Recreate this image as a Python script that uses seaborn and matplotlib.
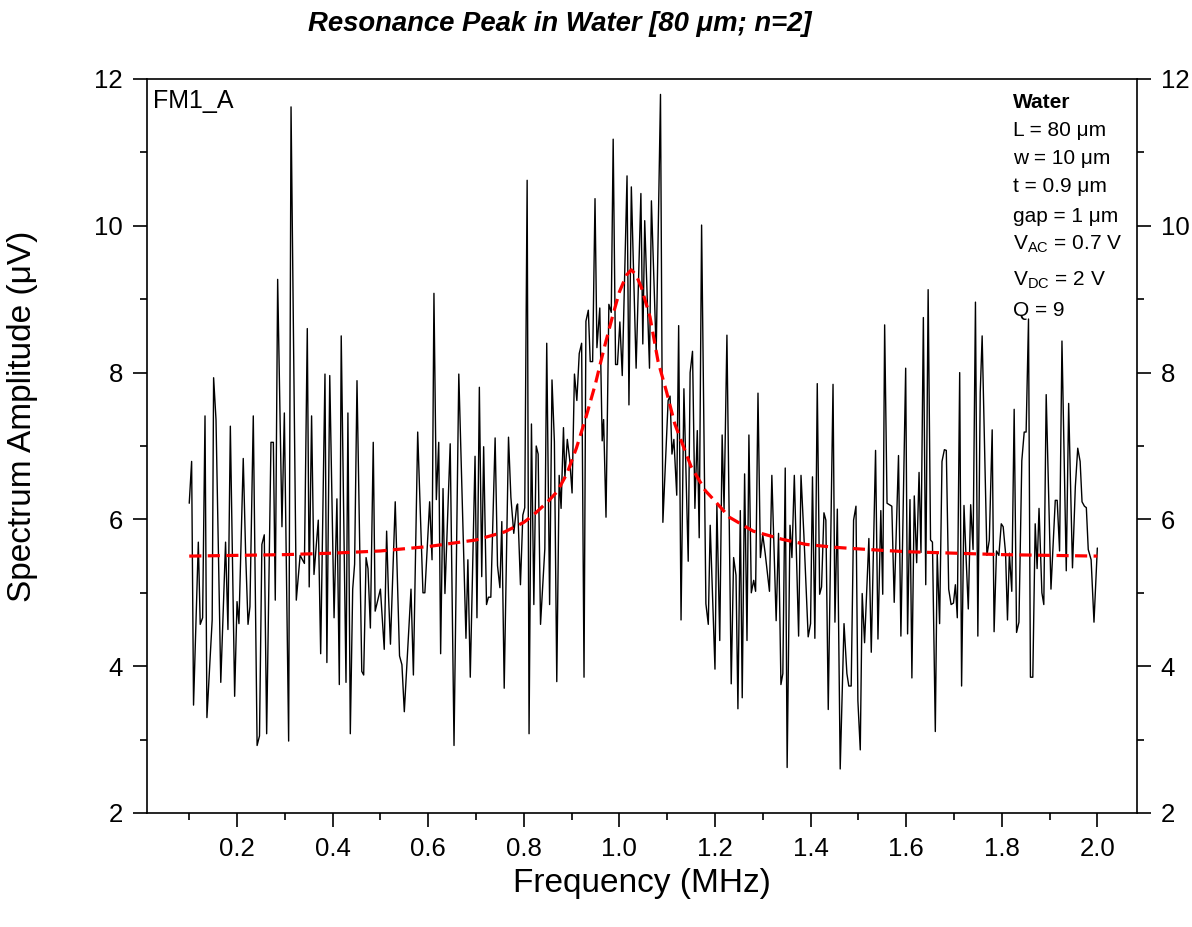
import matplotlib
matplotlib.use("Agg")
import matplotlib.pyplot as plt
from matplotlib.ticker import MultipleLocator
import seaborn as sns

# Measured spectrum: frequency (MHz) and amplitude (uV)
freq = [
    0.100, 0.105, 0.109, 0.119, 0.123, 0.128, 0.133, 0.137, 0.148, 0.151,
    0.156, 0.166, 0.176, 0.181, 0.186, 0.195, 0.200, 0.204, 0.213, 0.218,
    0.223, 0.227, 0.234, 0.242, 0.247, 0.252, 0.257, 0.262, 0.271, 0.276,
    0.280, 0.285, 0.294, 0.299, 0.308, 0.313, 0.324, 0.332, 0.341, 0.347,
    0.351, 0.356, 0.361, 0.370, 0.375, 0.384, 0.388, 0.394, 0.403, 0.409,
    0.414, 0.418, 0.428, 0.432, 0.437, 0.442, 0.446, 0.451, 0.461, 0.465,
    0.470, 0.474, 0.479, 0.485, 0.489, 0.500, 0.508, 0.513, 0.517, 0.521,
    0.531, 0.540, 0.545, 0.550, 0.564, 0.569, 0.578, 0.589, 0.593, 0.603,
    0.608, 0.612, 0.617, 0.622, 0.626, 0.631, 0.635, 0.646, 0.654, 0.664,
    0.679, 0.683, 0.688, 0.698, 0.702, 0.707, 0.712, 0.716, 0.722, 0.726,
    0.731, 0.740, 0.745, 0.750, 0.754, 0.759, 0.768, 0.773, 0.779, 0.785,
    0.787, 0.793, 0.798, 0.802, 0.807, 0.811, 0.816, 0.821, 0.826, 0.830,
    0.835, 0.844, 0.848, 0.854, 0.859, 0.864, 0.869, 0.874, 0.878, 0.883,
    0.886, 0.891, 0.896, 0.901, 0.906, 0.911, 0.916, 0.921, 0.926, 0.930,
    0.935, 0.939, 0.944, 0.949, 0.953, 0.959, 0.964, 0.967, 0.972, 0.978,
    0.983, 0.987, 0.992, 0.996, 1.001, 1.006, 1.016, 1.020, 1.025, 1.035,
    1.045, 1.049, 1.053, 1.063, 1.067, 1.077, 1.086, 1.091, 1.102, 1.106,
    1.110, 1.114, 1.120, 1.124, 1.129, 1.135, 1.144, 1.148, 1.153, 1.158,
    1.163, 1.167, 1.172, 1.181, 1.186, 1.190, 1.200, 1.204, 1.210, 1.215,
    1.219, 1.225, 1.234, 1.239, 1.244, 1.248, 1.253, 1.257, 1.262, 1.267,
    1.271, 1.276, 1.281, 1.285, 1.290, 1.295, 1.300, 1.305, 1.314, 1.319,
    1.328, 1.333, 1.338, 1.342, 1.347, 1.351, 1.357, 1.361, 1.366, 1.375,
    1.380, 1.386, 1.395, 1.400, 1.404, 1.409, 1.414, 1.419, 1.423, 1.428,
    1.432, 1.437, 1.447, 1.451, 1.456, 1.462, 1.470, 1.476, 1.480, 1.485,
    1.490, 1.495, 1.499, 1.504, 1.508, 1.513, 1.522, 1.527, 1.536, 1.541,
    1.547, 1.551, 1.555, 1.560, 1.570, 1.575, 1.584, 1.589, 1.599, 1.603,
    1.608, 1.612, 1.617, 1.622, 1.627, 1.631, 1.636, 1.641, 1.646, 1.651,
    1.655, 1.661, 1.665, 1.670, 1.675, 1.680, 1.684, 1.689, 1.694, 1.699,
    1.703, 1.707, 1.712, 1.716, 1.721, 1.725, 1.730, 1.735, 1.740, 1.745,
    1.750, 1.755, 1.759, 1.769, 1.774, 1.780, 1.784, 1.789, 1.794, 1.799,
    1.803, 1.808, 1.812, 1.816, 1.821, 1.826, 1.831, 1.836, 1.842, 1.847,
    1.851, 1.856, 1.860, 1.865, 1.870, 1.874, 1.878, 1.884, 1.888, 1.893,
    1.903, 1.907, 1.912, 1.916, 1.921, 1.926, 1.935, 1.940, 1.948, 1.954,
    1.959, 1.964, 1.968, 1.973, 1.977, 1.981, 1.987, 1.993, 2.000,
]
amplitude = [
    6.22, 6.79, 3.47, 5.69, 4.57, 4.66, 7.41, 3.30, 4.63, 7.93,
    7.36, 3.78, 5.69, 4.50, 7.27, 3.59, 4.88, 4.58, 6.83, 5.54,
    4.57, 4.81, 7.41, 2.92, 3.05, 5.66, 5.79, 3.08, 7.05, 7.05,
    4.90, 9.27, 5.90, 7.45, 2.98, 11.62, 4.90, 5.51, 5.40, 8.60,
    5.08, 7.41, 5.25, 5.99, 4.17, 7.98, 4.05, 7.96, 4.66, 6.28,
    3.75, 8.50, 3.78, 7.45, 3.08, 5.05, 5.39, 7.89, 3.93, 3.88,
    5.48, 5.33, 4.52, 7.05, 4.75, 5.05, 4.23, 5.84, 4.96, 4.30,
    6.24, 4.14, 4.02, 3.38, 5.05, 3.88, 7.19, 5.00, 5.00, 6.24,
    5.45, 9.08, 6.27, 7.05, 4.17, 6.42, 4.99, 7.03, 2.92, 7.98,
    4.38, 5.45, 3.85, 6.86, 4.66, 7.80, 5.22, 6.99, 4.84, 4.94,
    4.94, 7.11, 5.37, 5.07, 5.97, 3.70, 7.12, 6.30, 5.81, 6.18,
    6.21, 5.11, 6.06, 6.16, 10.62, 3.08, 7.30, 4.84, 7.00, 6.89,
    4.57, 5.60, 8.40, 4.84, 7.90, 7.06, 3.79, 6.60, 6.15, 7.25,
    6.57, 7.09, 6.82, 6.36, 7.98, 7.62, 8.26, 8.40, 3.85, 8.70,
    8.85, 8.15, 8.15, 10.37, 8.34, 8.88, 7.07, 7.36, 6.03, 8.93,
    8.82, 11.18, 8.11, 8.11, 8.69, 7.96, 10.68, 7.56, 10.53, 8.06,
    10.44, 8.39, 10.07, 8.06, 10.34, 8.28, 11.79, 5.96, 7.62, 7.68,
    6.89, 7.09, 6.33, 8.64, 4.63, 7.78, 5.43, 8.00, 8.29, 6.15,
    7.21, 5.75, 10.01, 4.85, 4.57, 5.92, 3.96, 6.20, 4.35, 7.15,
    6.14, 8.51, 3.76, 5.48, 5.24, 3.42, 6.12, 3.57, 6.62, 4.35,
    7.15, 5.00, 5.17, 5.02, 7.72, 5.48, 5.79, 5.54, 5.02, 6.60,
    4.62, 5.81, 3.75, 3.90, 6.70, 2.62, 5.92, 5.48, 6.60, 4.41,
    6.60, 5.79, 4.40, 4.58, 6.58, 4.38, 7.85, 4.98, 5.08, 6.09,
    5.99, 3.41, 7.84, 4.60, 6.14, 2.60, 4.58, 3.90, 3.73, 3.73,
    5.99, 6.18, 3.53, 2.86, 4.99, 4.32, 5.74, 4.19, 6.94, 4.37,
    6.12, 4.98, 8.65, 6.22, 6.18, 4.87, 6.87, 4.41, 8.06, 4.44,
    6.27, 3.84, 6.32, 5.41, 6.64, 5.55, 8.75, 5.11, 9.13, 5.72,
    5.69, 3.11, 5.53, 4.58, 6.79, 6.95, 6.94, 5.05, 4.84, 4.86,
    5.11, 4.66, 8.00, 3.73, 6.19, 5.54, 4.78, 6.20, 5.59, 8.96,
    4.41, 7.73, 8.50, 5.51, 5.72, 7.22, 4.47, 5.57, 5.51, 5.94,
    5.90, 5.54, 4.63, 5.54, 5.02, 7.50, 4.46, 4.60, 6.80, 7.19,
    7.19, 8.73, 3.85, 3.85, 5.94, 5.33, 6.15, 5.00, 4.84, 7.70,
    5.05, 5.60, 6.26, 6.26, 5.57, 8.43, 5.30, 7.58, 5.34, 6.45,
    6.97, 6.79, 6.24, 6.18, 6.16, 5.59, 5.45, 4.60, 5.61,
]

# Resonance fit curve (MHz, uV)
fit_freq = [
    0.10, 0.20, 0.30, 0.40, 0.50, 0.60, 0.70, 0.76, 0.80, 0.82,
    0.85, 0.87, 0.89, 0.91, 0.93, 0.95, 0.96, 0.97, 0.985, 1.00,
    1.015, 1.025, 1.035, 1.046, 1.064, 1.081, 1.099, 1.116, 1.13, 1.15,
    1.18, 1.20, 1.23, 1.28, 1.34, 1.39, 1.45, 1.52, 1.60, 1.70,
    1.80, 1.90, 2.00,
]
fit_amplitude = [
    5.50, 5.51, 5.52, 5.54, 5.57, 5.63, 5.72, 5.83, 5.96, 6.06,
    6.24, 6.38, 6.62, 6.97, 7.39, 7.85, 8.12, 8.38, 8.75, 9.10,
    9.33, 9.40, 9.33, 9.16, 8.76, 8.15, 7.73, 7.30, 7.06, 6.72,
    6.39, 6.25, 6.03, 5.84, 5.73, 5.66, 5.62, 5.59, 5.56, 5.54,
    5.52, 5.51, 5.50,
]

x_ticks = [0.2, 0.4, 0.6, 0.8, 1.0, 1.2, 1.4, 1.6, 1.8, 2.0]
x_tick_labels = ["0.2", "0.4", "0.6", "0.8", "1.0", "1.2", "1.4", "1.6", "1.8", "2.0"]
x_minor_ticks = [0.1, 0.3, 0.5, 0.7, 0.9, 1.1, 1.3, 1.5, 1.7, 1.9]
y_ticks = [2, 4, 6, 8, 10, 12]

title = "Resonance Peak in Water [80 \u03bcm; n=2]"
panel_label = "FM1_A"
param_header = "Water"
params = [
    "L = 80 \u03bcm",
    "w = 10 \u03bcm",
    "t = 0.9 \u03bcm",
    "gap = 1 \u03bcm",
    r"V$_{\mathregular{AC}}$ = 0.7 V",
    r"V$_{\mathregular{DC}}$ = 2 V",
    "Q = 9",
]
# vertical centres of the parameter lines, in pixels from the top
param_rows = [130, 158, 187, 216, 244, 280, 310]

sns.set_theme(style="ticks")
plt.rcParams["font.family"] = ["Liberation Sans", "DejaVu Sans"]
plt.rcParams["mathtext.fontset"] = "custom"
plt.rcParams["mathtext.rm"] = "Liberation Sans"
for key in ["text.color", "axes.labelcolor", "xtick.color", "ytick.color",
            "axes.edgecolor"]:
    plt.rcParams[key] = "black"

W, H = 1192, 927
fig = plt.figure(figsize=(W / 100, H / 100), dpi=100)
ax = fig.add_axes([146.7 / W, 1 - 813 / H, (1137 - 146.7) / W, (813 - 79) / H])

sns.lineplot(x=freq, y=amplitude, ax=ax, color="black", linewidth=1.0,
             estimator=None, sort=False)
sns.lineplot(x=fit_freq, y=fit_amplitude, ax=ax, color="#ff0000", linewidth=2.3,
             estimator=None, sort=False)
ax.lines[-1].set_dashes((3.8, 2.0))

ax.set_xlim(0.011, 2.083)
ax.set_ylim(2, 12)
ax.set_xticks(x_ticks)
ax.set_xticklabels(x_tick_labels)
ax.set_xticks(x_minor_ticks, minor=True)
ax.set_yticks(y_ticks)
ax.yaxis.set_minor_locator(MultipleLocator(1))

for side in ["left", "right", "top", "bottom"]:
    ax.spines[side].set_visible(True)
    ax.spines[side].set_linewidth(1.2)
    ax.spines[side].set_color("black")

ax.tick_params(axis="both", which="major", direction="out", length=10, width=1.2,
               labelsize=18.5, pad=7)
ax.tick_params(axis="both", which="minor", direction="out", length=5, width=1.2)
ax.tick_params(axis="y", which="both", right=True, labelright=True)
ax.tick_params(axis="x", which="both", top=False)

ax.set_xlabel("Frequency (MHz)", fontsize=24, labelpad=5)
ax.set_ylabel("Spectrum Amplitude (\u03bcV)", fontsize=24)
ax.yaxis.set_label_coords(38 / W, 1 - 416 / H, transform=fig.transFigure)

t = fig.text(560 / W, 1 - 24 / H, title, ha="center", va="center",
             fontsize=22, fontweight="bold", fontstyle="italic")
fig.canvas.draw()
tw = t.get_window_extent().width
if tw > 0:
    t.set_fontsize(22 * 505 / tw)

ax.text(0.006, 0.986, panel_label, transform=ax.transAxes, ha="left", va="top",
        fontsize=18)

tx = 1013 / W
fig.text(tx, 1 - 102 / H, param_header, ha="left", va="center", fontsize=15,
         fontweight="bold")
for row, line in zip(param_rows, params):
    fig.text(tx, 1 - row / H, line, ha="left", va="center", fontsize=15)

fig.savefig("out.png", dpi=100, facecolor="white")
